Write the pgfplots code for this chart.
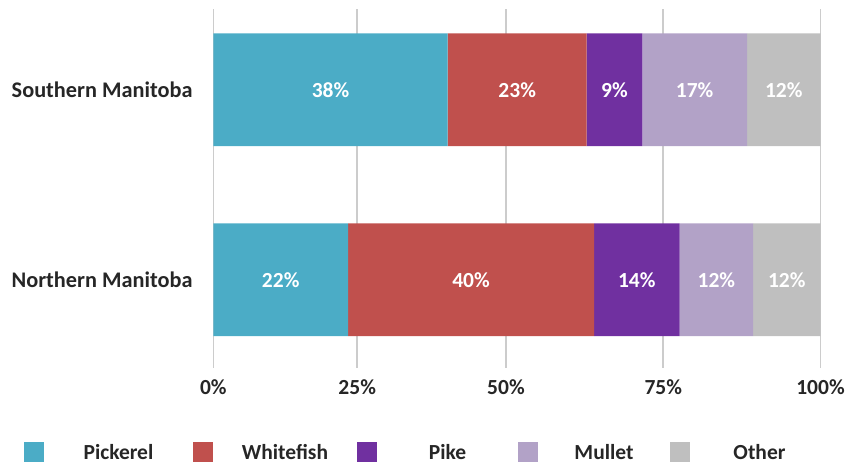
\documentclass[border=0pt]{standalone}
\usepackage{pgfplots}
\pgfplotsset{compat=1.18}
\usepackage{fontspec}
\setmainfont{Carlito}
\definecolor{cPick}{HTML}{4BACC6}
\definecolor{cWhite}{HTML}{C0504D}
\definecolor{cPike}{HTML}{7030A0}
\definecolor{cMul}{HTML}{B2A2C7}
\definecolor{cOth}{HTML}{BFBFBF}
\definecolor{txt}{HTML}{262626}
\definecolor{grd}{HTML}{CCCCCC}
\newcommand{\cfont}{\fontsize{21.5bp}{25bp}\selectfont\bfseries}
\begin{document}
\begin{tikzpicture}
\path[use as bounding box] (0,0) rectangle (848bp,466bp);
\begin{axis}[
  at={(213.3bp,98.3bp)}, anchor=south west,
  scale only axis, width=607.2bp, height=358.4bp,
  xbar stacked, bar width=0.593,
  xmin=0, xmax=100, ymin=-0.463, ymax=1.423,
  clip=false,
  xtick={0,23.7,48.2,74.1,100},
  xticklabels={0\%,25\%,50\%,75\%,100\%},
  ytick={0,1},
  yticklabels={Northern Manitoba,Southern Manitoba},
  axis line style={draw=none},
  major tick length=0pt,
  xmajorgrids, ymajorgrids=false,
  grid style={grd, line width=1.5bp},
  ticklabel style={font=\cfont, text=txt, inner sep=0pt},
  xticklabel style={anchor=north, yshift=-11.6bp},
  yticklabel style={anchor=east, xshift=-20.6bp, font=\fontsize{22.3bp}{26bp}\selectfont\bfseries},
  point meta=explicit symbolic,
  nodes near coords,
  nodes near coords align={center},
  every node near coord/.append style={anchor=center, text=white, font=\cfont},
  legend image code/.code={\fill[#1] (0bp,-10bp) rectangle (20bp,10bp);},
  legend columns=5,
  legend style={at={(-0.3118,-0.2366)}, anchor=west, draw=none, fill=none,
     inner sep=0pt, outer sep=0pt, column sep=0pt, row sep=0pt,
     font=\cfont, text=txt, nodes={inner sep=0pt, outer sep=0pt},
     cells={anchor=center}},
]
\addplot[fill=cPick, draw=none] coordinates {(22.2,0) [22\%] (38.6,1) [38\%]};
\addplot[fill=cWhite, draw=none] coordinates {(40.5,0) [40\%] (22.9,1) [23\%]};
\addplot[fill=cPike, draw=none] coordinates {(14.1,0) [14\%] (9.15,1) [9\%]};
\addplot[fill=cMul, draw=none] coordinates {(12.1,0) [12\%] (17.25,1) [17\%]};
\addplot[fill=cOth, draw=none] coordinates {(11.1,0) [12\%] (12.1,1) [12\%]};
\addlegendentry{\makebox[149bp][c]{Pickerel}}
\addlegendentry{\makebox[144bp][c]{Whitefish}}
\addlegendentry{\makebox[141bp][c]{Pike}}
\addlegendentry{\makebox[132bp][c]{Mullet}}
\addlegendentry{\makebox[139bp][c]{Other}}
\end{axis}
\end{tikzpicture}
\end{document}
